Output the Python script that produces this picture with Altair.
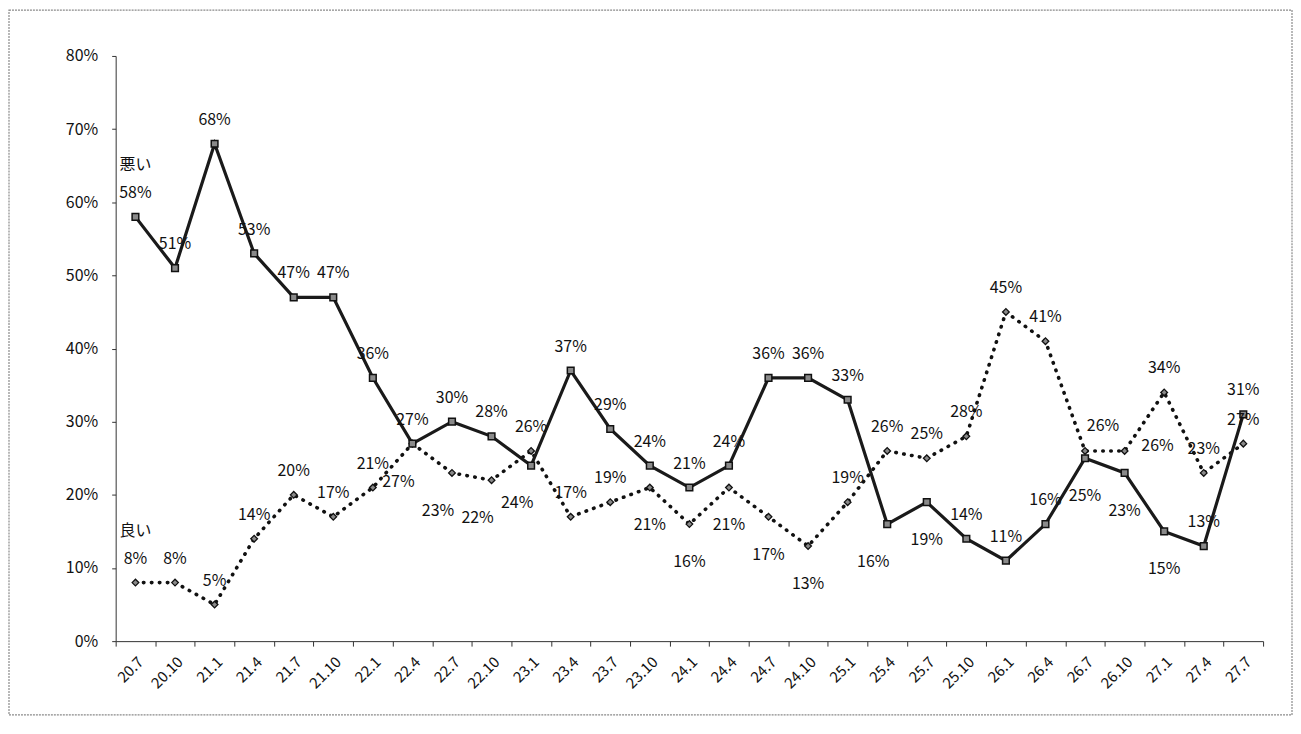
import altair as alt
import pandas as pd

categories = ["20.7", "20.10", "21.1", "21.4", "21.7", "21.10", "22.1", "22.4", "22.7", "22.10",
              "23.1", "23.4", "23.7", "23.10", "24.1", "24.4", "24.7", "24.10", "25.1", "25.4",
              "25.7", "25.10", "26.1", "26.4", "26.7", "26.10", "27.1", "27.4", "27.7"]
bad_values = [58, 51, 68, 53, 47, 47, 36, 27, 30, 28, 24, 37, 29, 24, 21, 24, 36, 36, 33, 16,
              19, 14, 11, 16, 25, 23, 15, 13, 31]
good_values = [8, 8, 5, 14, 20, 17, 21, 27, 23, 22, 26, 17, 19, 21, 16, 21, 17, 13, 19, 26,
               25, 28, 45, 41, 26, 26, 34, 23, 27]
series_bad = "悪い"
series_good = "良い"

# label placement classes (A = above, B = below, BL = below-left, R = right, AR = above-right)
bad_label_pos = ["A", "A", "A", "A", "A", "A", "A", "A", "A", "A", "BL", "A", "A", "A", "A", "A",
                 "A", "A", "A", "BL", "B", "A", "A", "A", "B", "B", "B", "A", "A"]
good_label_pos = ["A", "A", "A", "A", "A", "A", "A", "BL", "BL", "BL", "A", "A", "A", "B", "B", "B",
                  "B", "B", "A", "A", "A", "A", "A", "A", "AR", "R", "A", "A", "A"]

rows = []
for i, c in enumerate(categories):
    rows.append({"cat": c, "series": series_bad, "value": bad_values[i] / 100,
                 "pos": bad_label_pos[i], "first": i == 0})
    rows.append({"cat": c, "series": series_good, "value": good_values[i] / 100,
                 "pos": good_label_pos[i], "first": i == 0})
df = pd.DataFrame(rows)

FONT = "Noto Sans CJK JP"

x_enc = alt.X(
    "cat:N", sort=categories, bandPosition=0.5,
    scale=alt.Scale(type="band", paddingInner=0, paddingOuter=0),
    axis=alt.Axis(title=None, labelAngle=-45, tickBand="extent", tickSize=5, labelPadding=8,
                  labelFontSize=15, labelFont=FONT, labelColor="#111", domainColor="#333",
                  tickColor="#333", grid=False),
)
y_enc = alt.Y(
    "value:Q",
    scale=alt.Scale(domain=[0, 0.8], nice=False),
    axis=alt.Axis(title=None, values=[0, 0.1, 0.2, 0.3, 0.4, 0.5, 0.6, 0.7, 0.8], format=".0%",
                  grid=False, tickSize=4, labelPadding=14, labelFontSize=16, labelFont=FONT,
                  labelColor="#111", domainColor="#333", tickColor="#333"),
)

base = alt.Chart(df).encode(x=x_enc, y=y_enc)

bad_line = base.transform_filter(alt.datum.series == series_bad).mark_line(
    color="#1a1a1a", strokeWidth=3.2)
bad_pts = base.transform_filter(alt.datum.series == series_bad).mark_point(
    shape="square", size=45, filled=True, fill="#8a8a8a", stroke="#111", strokeWidth=1.5, opacity=1)

good_line = base.transform_filter(alt.datum.series == series_good).mark_line(
    color="#111", strokeWidth=3.6, strokeDash=[0.5, 7.5], strokeCap="round")
good_pts = base.transform_filter(alt.datum.series == series_good).mark_point(
    shape="diamond", size=45, filled=True, fill="#8a8a8a", stroke="#111", strokeWidth=1.3, opacity=1)

offsets = {"A": (0, -24), "B": (0, 38), "BL": (-14, 38), "R": (33, -5), "AR": (18, -25)}
label_layers = []
for key, (dx, dy) in offsets.items():
    label_layers.append(
        base.transform_filter(alt.datum.pos == key).mark_text(
            dx=dx, dy=dy, fontSize=16, font=FONT, color="#111"
        ).encode(text=alt.Text("value:Q", format=".0%"))
    )

name_labels = base.transform_filter(alt.datum.first == True).mark_text(
    dy=-52, fontSize=16, font=FONT, color="#111"
).encode(text="series:N")

frame = alt.Chart(pd.DataFrame({"k": [0]})).mark_rect(
    fill="white", fillOpacity=0, stroke="#8a8a8a", strokeWidth=1.2, strokeDash=[2, 1]
).encode(x=alt.value(-107), x2=alt.value(1180), y=alt.value(-46), y2=alt.value(661))

chart = alt.layer(
    frame, good_line, bad_line, good_pts, bad_pts, *label_layers, name_labels
).properties(
    width=1151, height=587,
    autosize=alt.AutoSizeParams(type="none"),
    padding={"left": 108, "top": 47, "right": 30, "bottom": 75},
    background="white",
).configure_view(stroke=None)

chart.save("out.html", embed_options={"renderer": "svg", "actions": False})
